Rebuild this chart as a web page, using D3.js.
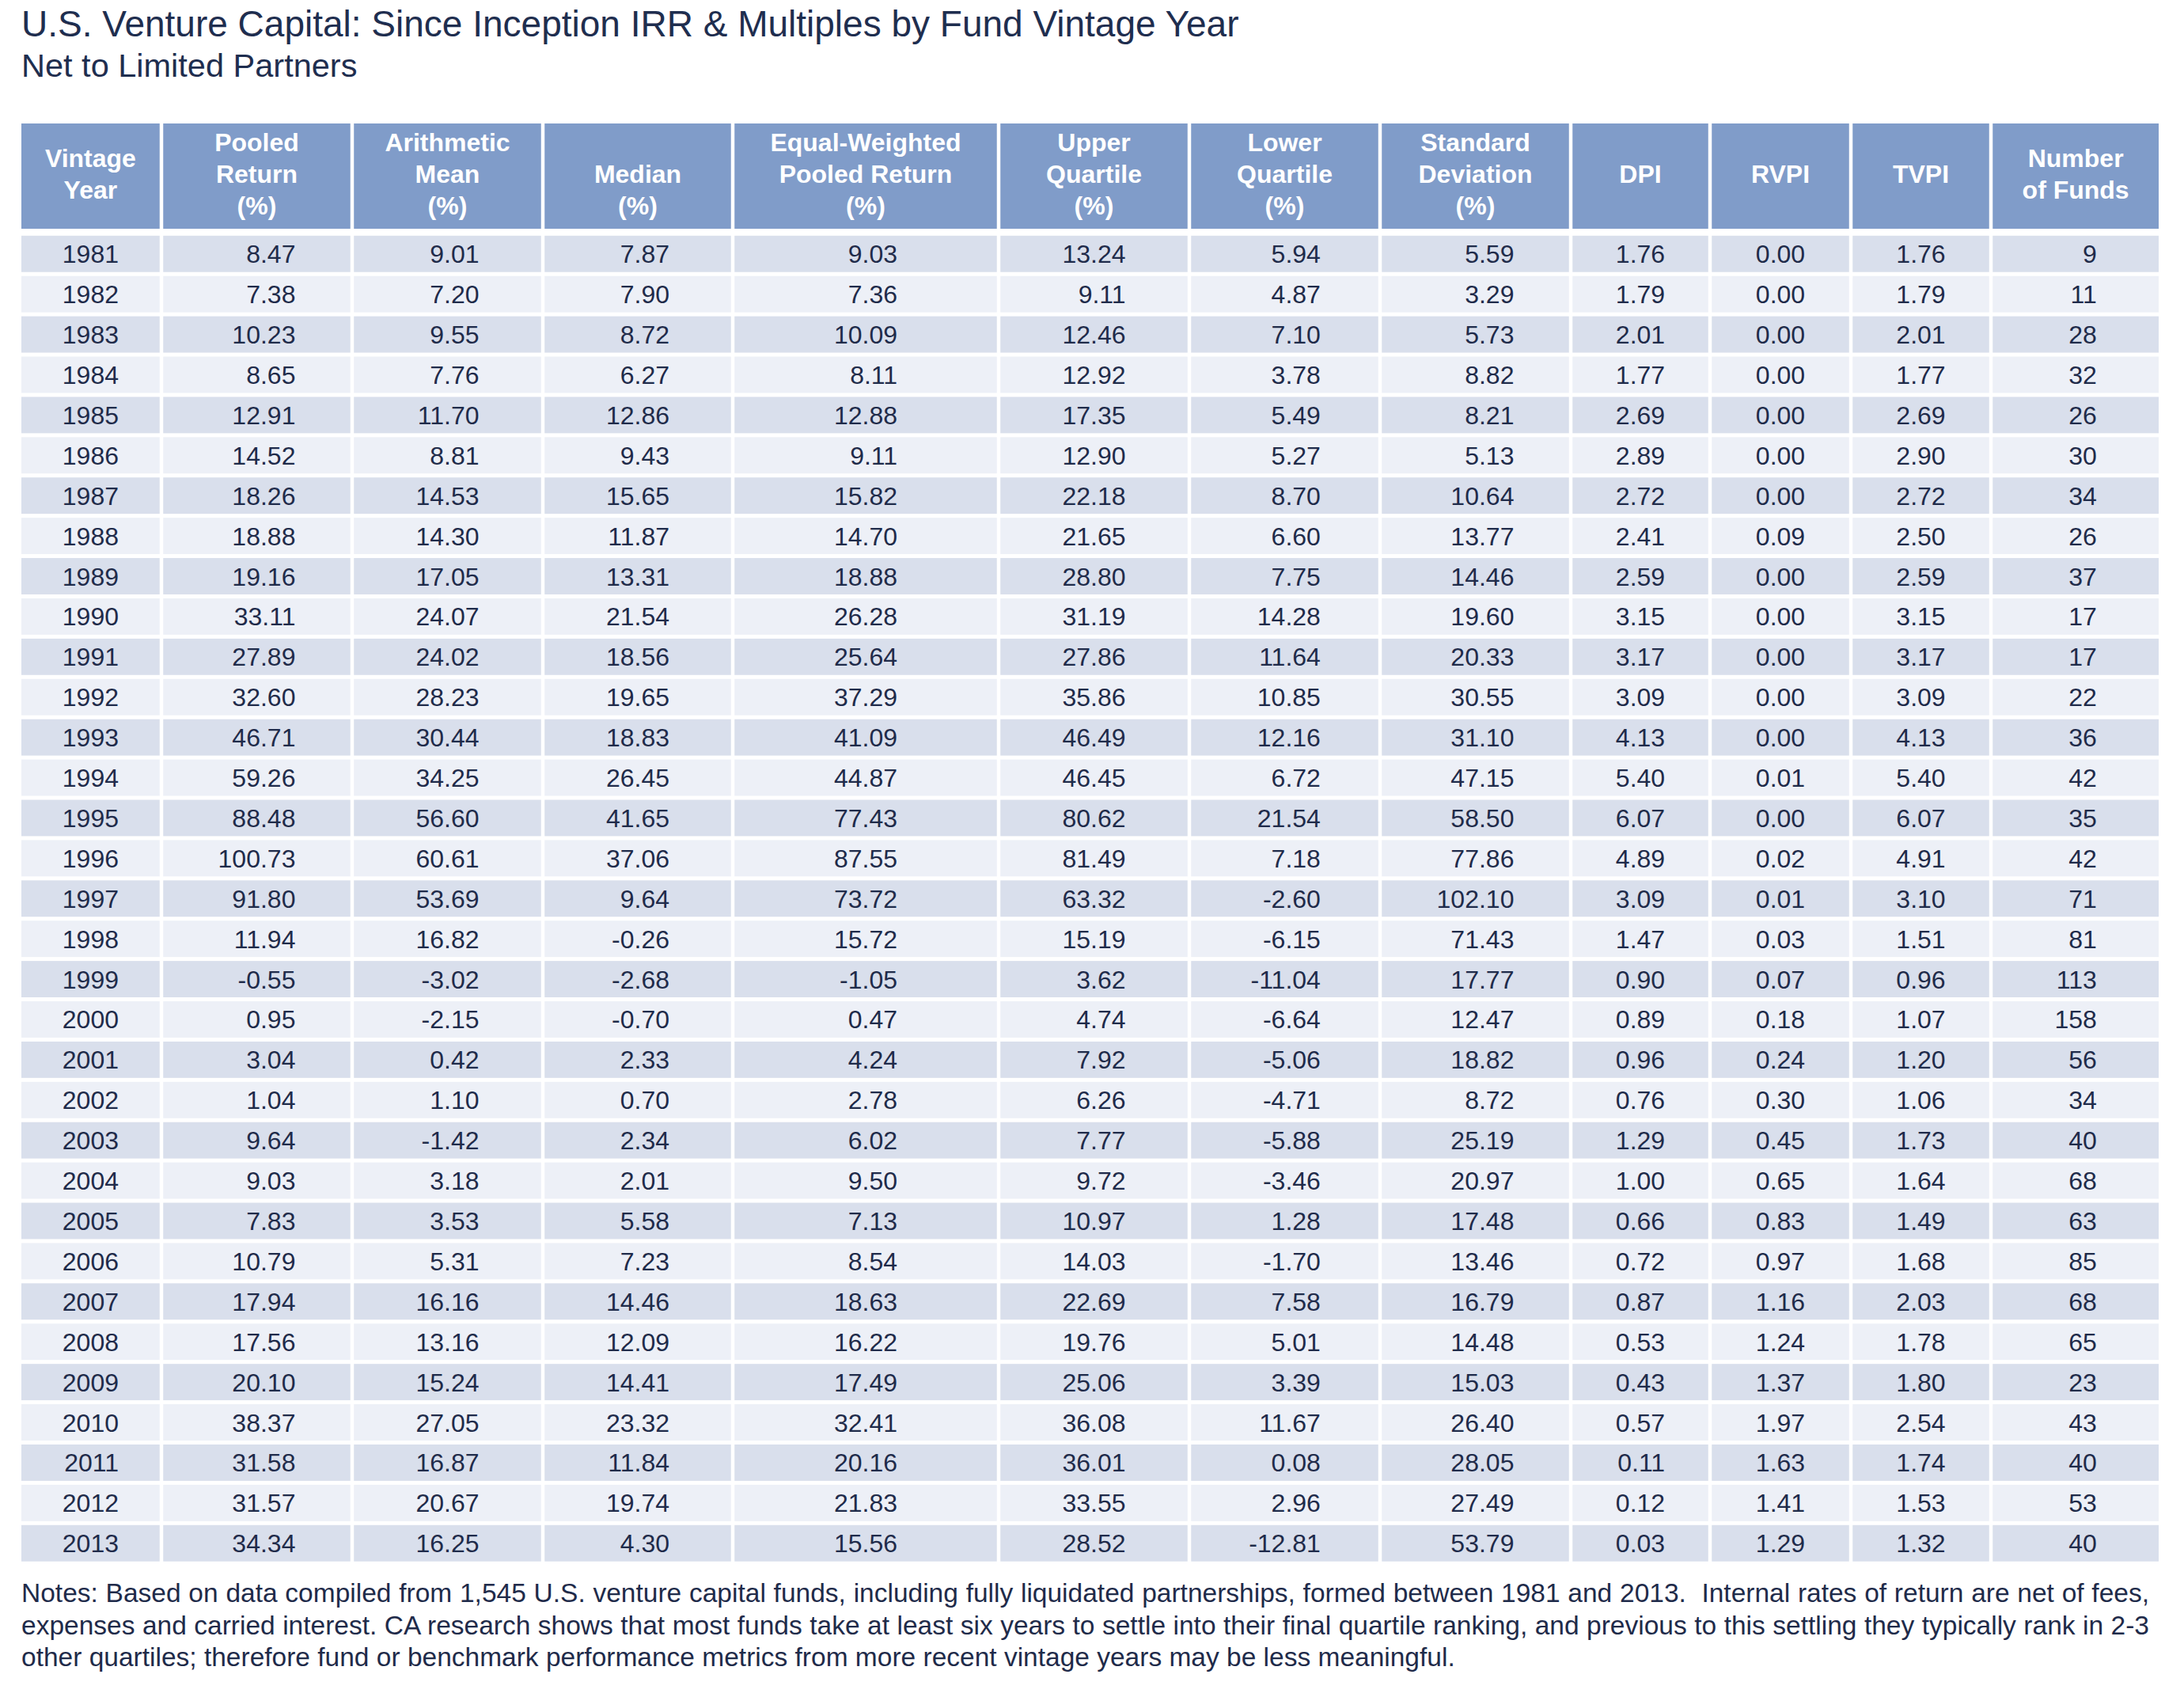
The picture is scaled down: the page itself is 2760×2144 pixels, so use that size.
<!DOCTYPE html>
<html>
<head>
<meta charset="utf-8">
<script src="https://cdn.jsdelivr.net/npm/d3@7"></script>
<style>
  html, body { margin: 0; padding: 0; background: #ffffff; }
  svg { display: block; }
  text { font-family: "Liberation Sans", Arial, Helvetica, sans-serif; }
</style>
</head>
<body>
<svg id="chart" width="2760" height="2144"></svg>
<script>
// ---------- DATA ----------
const titleText = "U.S. Venture Capital: Since Inception IRR & Multiples by Fund Vintage Year";
const subtitleText = "Net to Limited Partners";

const headerLabels = [
  ["Vintage", "Year"],
  ["Pooled", "Return", "(%)"],
  ["Arithmetic", "Mean", "(%)"],
  ["", "Median", "(%)"],
  ["Equal-Weighted", "Pooled Return", "(%)"],
  ["Upper", "Quartile", "(%)"],
  ["Lower", "Quartile", "(%)"],
  ["Standard", "Deviation", "(%)"],
  ["DPI"],
  ["RVPI"],
  ["TVPI"],
  ["Number", "of Funds"]
];

const vintageYears = [1981,1982,1983,1984,1985,1986,1987,1988,1989,1990,1991,1992,1993,1994,1995,1996,1997,1998,1999,2000,2001,2002,2003,2004,2005,2006,2007,2008,2009,2010,2011,2012,2013];

const pooledReturn = [8.47,7.38,10.23,8.65,12.91,14.52,18.26,18.88,19.16,33.11,27.89,32.60,46.71,59.26,88.48,100.73,91.80,11.94,-0.55,0.95,3.04,1.04,9.64,9.03,7.83,10.79,17.94,17.56,20.10,38.37,31.58,31.57,34.34];
const arithmeticMean = [9.01,7.20,9.55,7.76,11.70,8.81,14.53,14.30,17.05,24.07,24.02,28.23,30.44,34.25,56.60,60.61,53.69,16.82,-3.02,-2.15,0.42,1.10,-1.42,3.18,3.53,5.31,16.16,13.16,15.24,27.05,16.87,20.67,16.25];
const medianReturn = [7.87,7.90,8.72,6.27,12.86,9.43,15.65,11.87,13.31,21.54,18.56,19.65,18.83,26.45,41.65,37.06,9.64,-0.26,-2.68,-0.70,2.33,0.70,2.34,2.01,5.58,7.23,14.46,12.09,14.41,23.32,11.84,19.74,4.30];
const equalWeighted = [9.03,7.36,10.09,8.11,12.88,9.11,15.82,14.70,18.88,26.28,25.64,37.29,41.09,44.87,77.43,87.55,73.72,15.72,-1.05,0.47,4.24,2.78,6.02,9.50,7.13,8.54,18.63,16.22,17.49,32.41,20.16,21.83,15.56];
const upperQuartile = [13.24,9.11,12.46,12.92,17.35,12.90,22.18,21.65,28.80,31.19,27.86,35.86,46.49,46.45,80.62,81.49,63.32,15.19,3.62,4.74,7.92,6.26,7.77,9.72,10.97,14.03,22.69,19.76,25.06,36.08,36.01,33.55,28.52];
const lowerQuartile = [5.94,4.87,7.10,3.78,5.49,5.27,8.70,6.60,7.75,14.28,11.64,10.85,12.16,6.72,21.54,7.18,-2.60,-6.15,-11.04,-6.64,-5.06,-4.71,-5.88,-3.46,1.28,-1.70,7.58,5.01,3.39,11.67,0.08,2.96,-12.81];
const standardDeviation = [5.59,3.29,5.73,8.82,8.21,5.13,10.64,13.77,14.46,19.60,20.33,30.55,31.10,47.15,58.50,77.86,102.10,71.43,17.77,12.47,18.82,8.72,25.19,20.97,17.48,13.46,16.79,14.48,15.03,26.40,28.05,27.49,53.79];
const dpi = [1.76,1.79,2.01,1.77,2.69,2.89,2.72,2.41,2.59,3.15,3.17,3.09,4.13,5.40,6.07,4.89,3.09,1.47,0.90,0.89,0.96,0.76,1.29,1.00,0.66,0.72,0.87,0.53,0.43,0.57,0.11,0.12,0.03];
const rvpi = [0.00,0.00,0.00,0.00,0.00,0.00,0.00,0.09,0.00,0.00,0.00,0.00,0.00,0.01,0.00,0.02,0.01,0.03,0.07,0.18,0.24,0.30,0.45,0.65,0.83,0.97,1.16,1.24,1.37,1.97,1.63,1.41,1.29];
const tvpi = [1.76,1.79,2.01,1.77,2.69,2.90,2.72,2.50,2.59,3.15,3.17,3.09,4.13,5.40,6.07,4.91,3.10,1.51,0.96,1.07,1.20,1.06,1.73,1.64,1.49,1.68,2.03,1.78,1.80,2.54,1.74,1.53,1.32];
const numberOfFunds = [9,11,28,32,26,30,34,26,37,17,17,22,36,42,35,42,71,81,113,158,56,34,40,68,63,85,68,65,23,43,40,53,40];

const notesLines = [
  "Notes: Based on data compiled from 1,545 U.S. venture capital funds, including fully liquidated partnerships, formed between 1981 and 2013.  Internal rates of return are net of fees,",
  "expenses and carried interest. CA research shows that most funds take at least six years to settle into their final quartile ranking, and previous to this settling they typically rank in 2-3",
  "other quartiles; therefore fund or benchmark performance metrics from more recent vintage years may be less meaningful."
];

// ---------- LAYOUT ----------
const columnUnits = [177, 241, 241, 240, 336, 241, 241, 241, 176, 178, 177, 212];
const seriesColumns = [pooledReturn, arithmeticMean, medianReturn, equalWeighted, upperQuartile,
  lowerQuartile, standardDeviation, dpi, rvpi, tvpi];

const COLORS = {
  title: "#1f2e4f",
  text: "#1f2b4a",
  header: "#809cc9",
  headerText: "#ffffff",
  rowDark: "#d9dfec",
  rowLight: "#edf0f7"
};

const svg = d3.select("#chart");

// Title
svg.append("text").attr("x", 27).attr("y", 46)
  .attr("font-size", 46).attr("fill", COLORS.title).text(titleText);
svg.append("text").attr("x", 27).attr("y", 97)
  .attr("font-size", 41.5).attr("fill", COLORS.title).text(subtitleText);

// Column scale (units -> px)
const totalUnits = d3.sum(columnUnits);
const xs = d3.scaleLinear().domain([0, totalUnits]).range([27, 2728]);
const bounds = [0, ...d3.cumsum(columnUnits)];
const GAP = 4.5;
const nCols = columnUnits.length;
const colX0 = i => xs(bounds[i]) + (i > 0 ? GAP / 2 : 0);
const colX1 = i => xs(bounds[i + 1]) - (i < nCols - 1 ? GAP / 2 : 0);

// Header
const headerTop = 156, headerBottom = 289;
const hg = svg.append("g");
hg.selectAll("rect").data(headerLabels).join("rect")
  .attr("x", (d, i) => colX0(i)).attr("y", headerTop)
  .attr("width", (d, i) => colX1(i) - colX0(i)).attr("height", headerBottom - headerTop)
  .attr("fill", COLORS.header);
const headerCenter = (headerTop + headerBottom) / 2;
headerLabels.forEach((lines, i) => {
  const cx = (colX0(i) + colX1(i)) / 2;
  const n = lines.length;
  lines.forEach((ln, j) => {
    if (!ln) return;
    hg.append("text")
      .attr("x", cx)
      .attr("y", headerCenter + 8 + (j - (n - 1) / 2) * 40)
      .attr("text-anchor", "middle")
      .attr("font-size", 32).attr("font-weight", "bold")
      .attr("fill", COLORS.headerText)
      .text(ln);
  });
});

// Body rows
const y = d3.scaleBand().domain(vintageYears).range([295.3, 1975.2])
  .paddingInner(0.098).paddingOuter(0.049);

const body = svg.append("g");
const rows = body.selectAll("g.row").data(vintageYears).join("g").attr("class", "row");
for (let c = 0; c < nCols; c++) {
  rows.append("rect")
    .attr("x", colX0(c)).attr("width", colX1(c) - colX0(c))
    .attr("y", d => y(d)).attr("height", y.bandwidth())
    .attr("fill", (d, i) => i % 2 === 0 ? COLORS.rowDark : COLORS.rowLight);
}

// Column values as strings
const fmt2 = d3.format(".2f");
const columnStrings = [
  vintageYears.map(String),
  ...seriesColumns.map(arr => arr.map(v => fmt2(v).replace("−", "-"))),
  numberOfFunds.map(String)
];

columnStrings.forEach((strs, c) => {
  const g = body.append("g");
  const texts = g.selectAll("text").data(vintageYears).join("text")
    .attr("font-size", 32).attr("fill", COLORS.text)
    .attr("y", d => y(d) + y.bandwidth() / 2 + 11.5)
    .text((d, i) => strs[i]);
  let maxW = 0;
  texts.each(function () { maxW = Math.max(maxW, this.getComputedTextLength()); });
  const cx = (colX0(c) + colX1(c)) / 2;
  texts.attr("x", cx + maxW / 2).attr("text-anchor", "end");
});

// Notes
const noteG = svg.append("g");
const noteTargetRight = 2717;
notesLines.forEach((ln, i) => {
  const t = noteG.append("text")
    .attr("x", 27).attr("y", 2024 + i * 40.5)
    .attr("font-size", 33.5).attr("fill", COLORS.text)
    .attr("xml:space", "preserve")
    .style("white-space", "pre")
    .text(ln);
  if (i < notesLines.length - 1) {
    const w = t.node().getComputedTextLength();
    const spaces = (ln.match(/ /g) || []).length;
    const extra = (noteTargetRight - 28) - w;
    if (spaces > 0) t.attr("word-spacing", extra / spaces);
  }
});
</script>
</body>
</html>
